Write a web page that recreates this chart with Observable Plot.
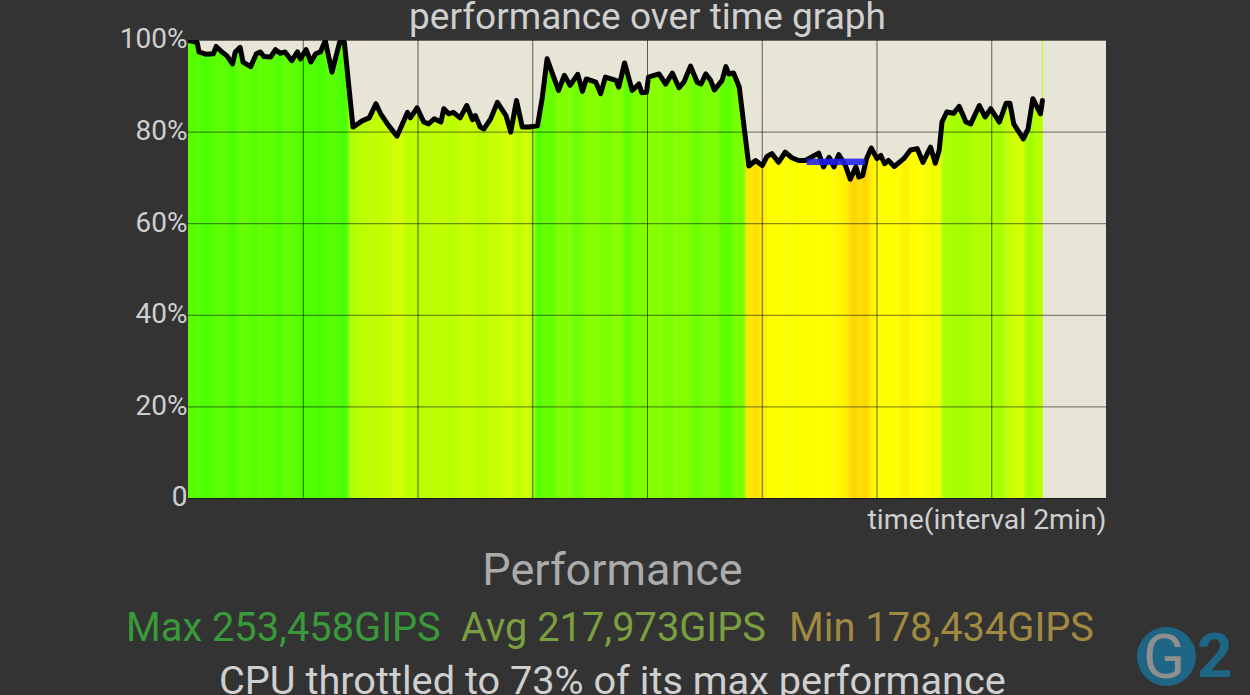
<!DOCTYPE html>
<html><head><meta charset="utf-8">
<script src="https://cdn.jsdelivr.net/npm/d3@7"></script>
<script src="https://cdn.jsdelivr.net/npm/@observablehq/plot@0.6"></script>
<style>
html,body{margin:0;padding:0;background:#333333;overflow:hidden}
#page{position:relative;width:1250px;height:695px;overflow:hidden;font-family:Roboto,sans-serif;background:#333333}
#page div.t{position:absolute;white-space:nowrap;line-height:1}
#chart{position:absolute;left:0;top:24px}
#chart svg{display:block;background:transparent}
</style></head><body>
<div id="page">
<div class="t" style="left:0;width:1295px;text-align:center;top:-2px;font-size:37px;color:#cfcfcf">performance over time graph</div>
<div id="chart"></div>
<div class="t" style="left:0;width:1225px;text-align:center;top:547px;font-size:45px;color:#ababab">Performance</div>
<div class="t" style="left:126px;top:608px;font-size:39.8px;color:#3a9a3a">Max 253,458GIPS</div>
<div class="t" style="left:461px;top:608px;font-size:39.8px;color:#7a9e40">Avg 217,973GIPS</div>
<div class="t" style="left:789px;top:608px;font-size:39.8px;color:#a08a42">Min 178,434GIPS</div>
<div class="t" style="left:219px;top:661px;font-size:39.7px;color:#cfcfcf">CPU throttled to 73% of its max performance</div>
<div style="position:absolute;left:1137px;top:627px;width:59px;height:59px;border-radius:50%;background:#1f6585;filter:blur(.6px)"></div>
<div class="t" style="left:1143px;top:626px;font-size:62px;font-weight:400;color:#8f8f8f;filter:blur(.6px)">G</div>
<div class="t" style="left:1197px;top:625px;font-size:62px;font-weight:700;color:#1f6585;filter:blur(.6px)">2</div>
</div>
<script>
const lineSeconds = [0,9,11,18,26,29,35,40,46,49,54,57,65,71,75,79,86,91,96,101,108,114,117,123,128,133,138,143,150,158,163,172,182,189,196,201,208,218,229,232,239,246,251,257,264,267,272,277,284,291,297,300,305,309,316,323,332,337,343,349,356,365,370,375,380,387,393,399,407,412,416,426,431,436,447,450,456,464,471,474,479,481,492,499,506,513,518,525,532,536,541,546,550,558,562,565,570,576,581,586,593,600,605,610,617,624,631,638,645,659,664,670,675,680,687,692,698,701,705,709,714,720,724,728,732,738,748,755,762,768,776,781,785,788,793,800,806,813,818,827,833,839,848,855,859,863,873,878,883,891,893];
const linePercent = [100,99.6,97.5,97,97.1,98.7,97.5,96.7,94.9,97.5,98.5,95.3,94.3,97.1,97.5,96.5,96.4,98,97.2,97.5,95.6,97.5,96,98,95.3,97.1,97.5,100,93.1,99.6,99.6,81.1,82.5,83.1,86.2,84,81.8,79.1,84.3,83.1,85.3,82.2,81.8,82.9,82.2,85.1,84,84.3,83.1,85.8,82.7,83.6,81.1,80.7,82.9,86.5,83.6,80,86.9,81.1,81.1,81.4,87.6,96,93.1,89.1,92.4,90.2,92.6,88.9,91.6,90.9,88.4,92,91.3,89.8,95.1,89.1,90.5,88.6,88.7,92,92.7,90.5,92.9,89.7,90.9,94.4,90.9,90.5,92.7,91.3,89.2,91.3,94.3,92.7,92.9,89.8,81.1,72.6,73.8,72.7,74.7,75.3,73.4,75.6,74.4,73.8,73.8,75.4,72.4,74.5,72.4,75.1,72.7,69.7,72.4,70.2,70.5,74.2,76.5,74.2,74.9,73.1,73.8,72.5,74.2,76.1,76.4,73.4,76.7,73.2,76,82.2,84.4,84.1,85.6,82.2,81.8,85.8,83.3,85.1,82.2,86.3,86.3,81.8,78.5,80.7,87.3,84,86.9];
const bandStart = [-20,12,25,40,52,62,75,90,100,115,130,145,155,165,168,178,192,205,215,225,240,255,270,285,300,315,330,340,352,358,363,372,385,400,415,430,445,455,465,480,495,510,525,540,555,570,583,590,598,606,625,640,660,675,685,692,700,705,712,720,745,755,770,788,800,820,840,855,865,875,885];
const bandColor = ["#55ff00","#4dff00","#5cff00","#4dff00","#66ff00","#58ff00","#60ff00","#50ff00","#5cff00","#50ff00","#4aff00","#55ff00","#4aff00","#40ff00","#b0ff00","#baff00","#c0ff00","#c8ff00","#d6ff00","#c0ff00","#b8ff00","#c0ff00","#bcff00","#c6ff00","#bcff00","#c8ff00","#d2ff00","#c0ff00","#d2ff00","#aaff00","#55ff00","#66ff00","#80ff00","#70ff00","#88ff00","#7cff00","#88ff00","#60ff00","#80ff00","#88ff00","#7cff00","#84ff00","#70ff00","#7cff00","#60ff00","#78ff00","#ffe800","#ffe000","#fff000","#ffff00","#f8ff00","#ffff00","#ffff00","#fff600","#ffee00","#ffd400","#ffe000","#ffd400","#fff200","#ffff00","#fff200","#ffff00","#f2ff00","#aaff00","#a4ff00","#b0ff00","#aaff00","#c8ff00","#d4ff00","#a0ff00","#b8ff00"];
const bandEnd = 915;
const dataEnd = 894;
const xGridSeconds = [120,240,360,480,600,720,840];
const yTicks = [0,20,40,60,80,100];
const throttleStart = 647, throttleEnd = 708, throttleLow = 72.7, throttleHigh = 74.1;
const xLabel = ["time(interval 2min)"];

const line = lineSeconds.map((t,i)=>({t,v:linePercent[i]}));
const bands = bandStart.map((s,i)=>({s,e:i+1<bandStart.length?bandStart[i+1]:bandEnd,c:bandColor[i]}));
const beige = "#e7e5d6";

const plot = Plot.plot({
  width:1250, height:502,
  marginTop:16, marginLeft:188, marginRight:144, marginBottom:28,
  style:{background:"transparent",fontFamily:"Roboto,sans-serif",fontSize:"28px",color:"#cfcfcf",overflow:"visible"},
  color:{type:"identity"},
  x:{domain:[0,960],axis:null},
  y:{domain:[0,100],axis:null},
  marks:[
    Plot.rectY([0],{x1:0,x2:960,y1:0,y2:100,fill:beige}),
    Plot.rect(bands,{x1:"s",x2:"e",y1:-10,y2:110,fill:"c",clip:"frame",imageFilter:"blur(1.8px)"}),
    Plot.areaY(line,{x:"t",y1:"v",y2:100,fill:beige,clip:"frame",curve:"linear"}),
    Plot.rectY([0],{x1:dataEnd,x2:960,y1:0,y2:100,fill:beige}),
    Plot.ruleX(xGridSeconds,{stroke:"#000",strokeOpacity:0.6,strokeWidth:1}),
    Plot.ruleY(yTicks,{stroke:"#000",strokeOpacity:0.55,strokeWidth:1}),
    Plot.line(line,{x:"t",y:"v",stroke:"#000",strokeWidth:5,strokeLinejoin:"round",clip:"frame"}),
    Plot.rectY([0],{x1:throttleStart,x2:throttleEnd,y1:throttleLow,y2:throttleHigh,fill:"#1f1ff0",fillOpacity:0.88}),
    Plot.axisY(yTicks,{tickSize:0,tickPadding:1,dy:-1,tickFormat:d=>d===0?"0":d+"%",fill:"#cfcfcf",fontSize:28,label:null,marginLeft:188}),
    Plot.text(xLabel,{frameAnchor:"bottom-right",textAnchor:"end",lineAnchor:"top",dy:10,fill:"#cfcfcf",fontSize:28.4})
  ]
});
document.getElementById("chart").appendChild(plot);
</script>
</body></html>
